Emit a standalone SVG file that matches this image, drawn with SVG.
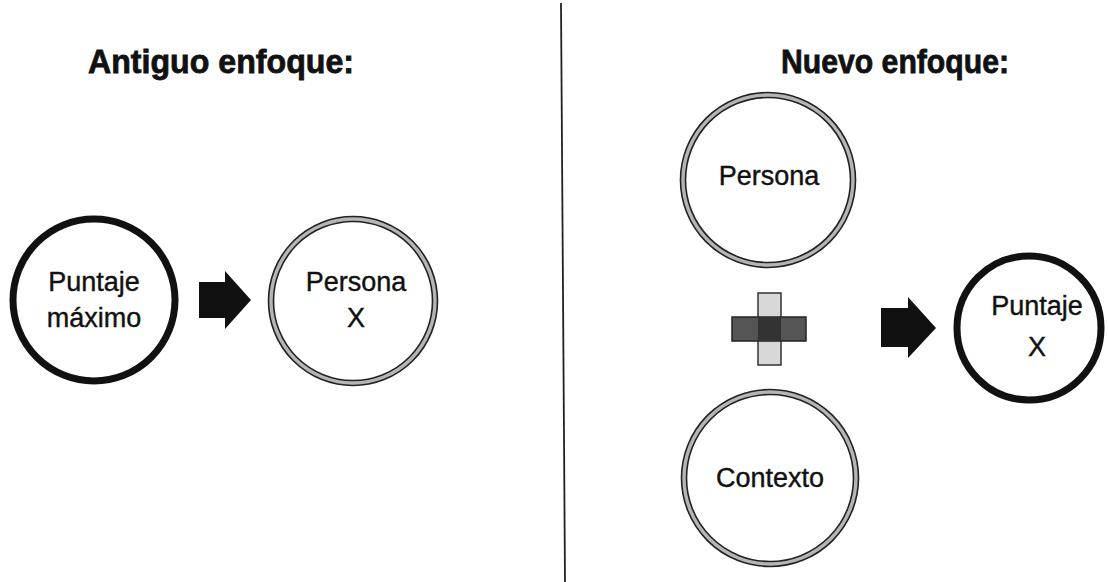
<svg xmlns="http://www.w3.org/2000/svg" width="1108" height="582" viewBox="0 0 1108 582">
<style>
.title{font-family:"Liberation Sans",Arial,sans-serif;font-weight:bold;font-size:34px;fill:#111;stroke:#111;stroke-width:0.8;text-anchor:middle}
.lbl{font-family:"Liberation Sans",Arial,sans-serif;font-size:27px;fill:#111;stroke:#111;stroke-width:0.4;text-anchor:middle}
.thick{fill:#fff;stroke:#111;stroke-width:7}
.ringmid{fill:#fff;stroke:#b5b5b5;stroke-width:5}
.ringline{fill:none;stroke:#222;stroke-width:1.6}
.arrow{fill:#111}
</style>
<rect width="1108" height="582" fill="#fff"/>
<line x1="561" y1="3" x2="565" y2="582" stroke="#222" stroke-width="1.8"/>
<text class="title" x="221" y="73" textLength="266" lengthAdjust="spacingAndGlyphs">Antiguo enfoque:</text>
<text class="title" x="895" y="73" textLength="228" lengthAdjust="spacingAndGlyphs">Nuevo enfoque:</text>

<g id="node-puntaje-maximo">
<circle class="thick" cx="94" cy="300" r="81"/>
<text class="lbl" x="94" y="291">Puntaje</text>
<text class="lbl" x="94" y="327">máximo</text>
</g>
<g id="node-persona-x">
<circle class="ringmid" cx="353" cy="301" r="82"/>
<circle class="ringline" cx="353" cy="301" r="84.5"/>
<circle class="ringline" cx="353" cy="301" r="79.5"/>
<text class="lbl" x="356" y="291">Persona</text>
<text class="lbl" x="356" y="327">X</text>
</g>
<g id="node-persona">
<circle class="ringmid" cx="768" cy="180" r="85"/>
<circle class="ringline" cx="768" cy="180" r="87.5"/>
<circle class="ringline" cx="768" cy="180" r="82.5"/>
<text class="lbl" x="769" y="185">Persona</text>
</g>
<g id="node-contexto">
<circle class="ringmid" cx="770" cy="478" r="86"/>
<circle class="ringline" cx="770" cy="478" r="88.5"/>
<circle class="ringline" cx="770" cy="478" r="83.5"/>
<text class="lbl" x="770" y="487">Contexto</text>
</g>
<g id="node-puntaje-x">
<circle class="thick" cx="1029" cy="328" r="72"/>
<text class="lbl" x="1037" y="315">Puntaje</text>
<text class="lbl" x="1037" y="356">X</text>
</g>
<g id="plus">
<rect x="758" y="293" width="23" height="72" fill="#d8d8d8" stroke="#333" stroke-width="1.5"/>
<rect x="732" y="317" width="74" height="24" fill="#555" stroke="#222" stroke-width="1.5"/>
<rect x="758" y="317" width="23" height="24" fill="#333"/>
</g>
<g id="connectors">
<polygon class="arrow" points="199,282 225,282 225,271 251,300 225,329 225,318 199,318"/>
<polygon class="arrow" points="881,308 908,308 908,297 936,328 908,358 908,347 881,347"/>
</g>
</svg>
